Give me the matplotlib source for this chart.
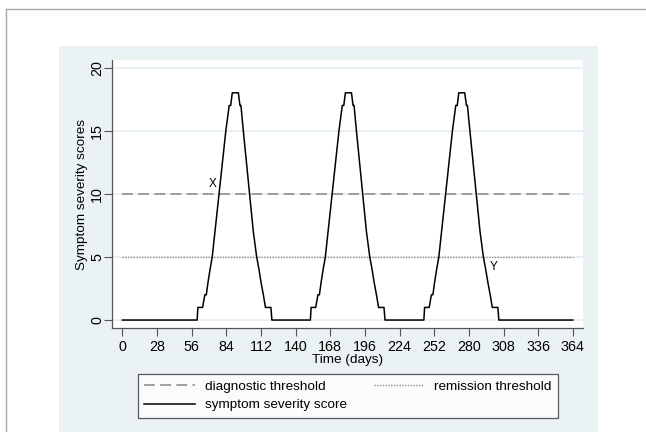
import matplotlib
matplotlib.use("Agg")
import matplotlib.pyplot as plt
from matplotlib.lines import Line2D

plt.rcParams['font.family'] = ['Liberation Sans', 'DejaVu Sans']

# ---- data ----
peak1_days = [60.4, 61.0, 64.8, 66.6, 67.8, 69.2, 70.8, 72.6, 83.6, 86.3, 87.5, 88.8,
              93.7, 95.0, 95.8, 97.7, 105.8, 108.5, 110.4, 112.0, 113.9, 115.6, 120.0, 120.8]
peak1_scores = [0, 1, 1, 2, 2, 3, 4, 5, 15, 17, 17, 18, 18, 17, 17, 15, 7, 5, 4, 3, 2, 1, 1, 0]

peak2_days = [151.9, 152.5, 156.2, 158.0, 159.2, 160.6, 162.2, 164.0, 175.0, 177.7, 178.9, 180.2,
              185.1, 186.4, 187.2, 189.1, 197.2, 199.9, 201.8, 203.4, 205.3, 207.0, 211.4, 212.2]
peak2_scores = [0, 1, 1, 2, 2, 3, 4, 5, 15, 17, 17, 18, 18, 17, 17, 15, 7, 5, 4, 3, 2, 1, 1, 0]

peak3_days = [243.6, 244.2, 247.9, 249.7, 250.9, 252.3, 253.9, 255.7, 266.7, 269.4, 270.6, 271.8,
              276.6, 278.0, 278.8, 280.8, 289.0, 291.7, 293.6, 295.3, 297.2, 298.9, 303.4, 304.2]
peak3_scores = [0, 1, 1, 2, 2, 3, 4, 5, 15, 17, 17, 18, 18, 17, 17, 15, 7, 5, 4, 3, 2, 1, 1, 0]

start_day, end_day = 0, 364
diagnostic_threshold = 10
remission_threshold = 5

x_ticks = [0, 28, 56, 84, 112, 140, 168, 196, 224, 252, 280, 308, 336, 364]
y_ticks = [0, 5, 10, 15, 20]

label_x = ("X", 72.6, 10.8)
label_y = ("Y", 299.7, 4.2)

time = [start_day] + peak1_days + peak2_days + peak3_days + [end_day]
score = [0] + peak1_scores + peak2_scores + peak3_scores + [0]

# ---- figure ----
W, H = 646, 432
FS = 9.7
fig = plt.figure(figsize=(W / 100, H / 100), dpi=100, facecolor='white')

# outer page frame (top and left)
fig.add_artist(Line2D([6 / W, 1], [1 - 9 / H, 1 - 9 / H], color='#a8a8a8', lw=1.0))
fig.add_artist(Line2D([6 / W, 6 / W], [0, 1 - 9 / H], color='#a8a8a8', lw=1.0))

# graph region
bg = plt.Rectangle((59 / W, 0), (597.5 - 59) / W, 1 - 45.5 / H, transform=fig.transFigure,
                   facecolor='#EAF2F3', edgecolor='none', zorder=0)
fig.add_artist(bg)

ax = fig.add_axes([112 / W, 1 - 328 / H, (583 - 112) / W, (328 - 60) / H])
ax.set_facecolor('white')
ax.set_xlim(-8.4, 372.2)
ax.set_ylim(-0.63, 20.6)

for v in y_ticks:
    ax.axhline(v, color='#E3EEF0', lw=1.2, zorder=1)

ax.plot([start_day, end_day], [diagnostic_threshold] * 2, color='#8f8f8f', lw=1.2,
        dashes=(6.5, 3.2), zorder=2, label='diagnostic threshold')
ax.plot([start_day, end_day], [remission_threshold] * 2, color='#8f8f8f', lw=1.0,
        linestyle=(0, (1, 1)), zorder=2, label='remission threshold')
ax.plot(time, score, color='black', lw=1.1, zorder=3, label='symptom severity score')

ax.text(label_x[1], label_x[2], label_x[0], fontsize=8.5, ha='center', va='center')
ax.text(label_y[1], label_y[2], label_y[0], fontsize=8.5, ha='center', va='center')

ax.set_xticks(x_ticks)
ax.set_yticks(y_ticks)
ax.set_yticklabels([str(v) for v in y_ticks], rotation=90, va='center')
ax.tick_params(axis='both', direction='out', length=5.5, width=0.8, color='#555555',
               labelsize=FS + 0.6)
ax.tick_params(axis='x', pad=3)
ax.tick_params(axis='y', pad=0)
for s in ['top', 'right']:
    ax.spines[s].set_visible(False)
for s in ['left', 'bottom']:
    ax.spines[s].set_color('#555555')
    ax.spines[s].set_linewidth(0.9)

ax.set_xlabel('Time (days)', fontsize=FS, labelpad=0)
ax.set_ylabel('Symptom severity scores', fontsize=FS, labelpad=1.5)

h, l = ax.get_legend_handles_labels()
order = [0, 2, 1]
leg = fig.legend([h[i] for i in order], [l[i] for i in order], ncol=2, loc='center',
                 bbox_to_anchor=(348 / W, 1 - 396 / H), fontsize=FS, frameon=True,
                 fancybox=False, edgecolor='#333333', handlelength=3.75, handletextpad=0.75,
                 columnspacing=2.0, borderpad=0.45, labelspacing=0.45, borderaxespad=0)
leg.get_frame().set_linewidth(0.9)

fig.savefig('out.png', dpi=100, facecolor='white')
